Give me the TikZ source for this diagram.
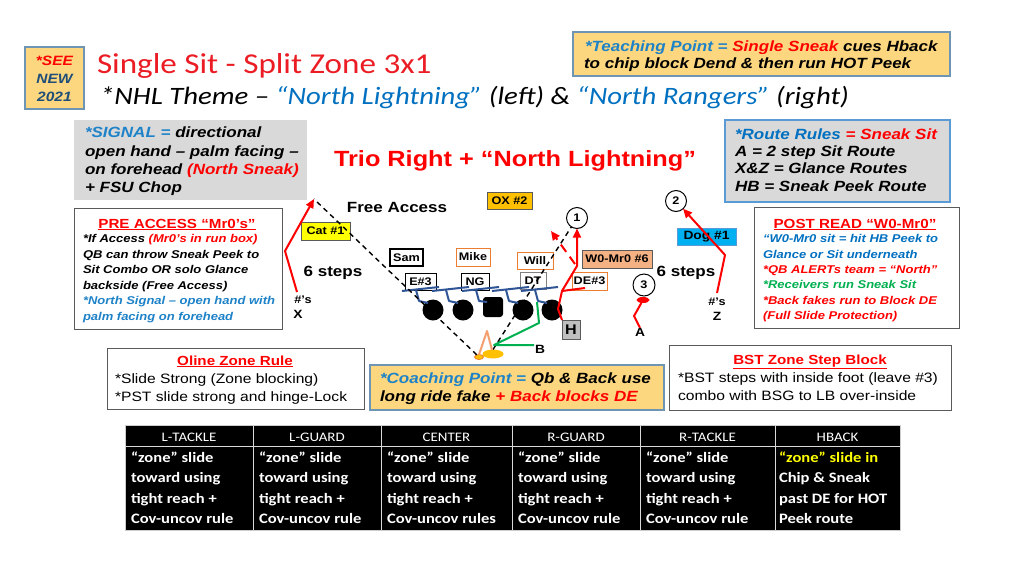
\documentclass[tikz,border=0pt]{standalone}
\usepackage{fontspec}
\setmainfont{Liberation Sans}[FakeStretch=1.15]
\newfontfamily\carl{Carlito}[FakeStretch=1.15]
\usetikzlibrary{arrows.meta,shapes.geometric}
\newcommand{\fs}[1]{\fontsize{#1}{#1}\selectfont}
\definecolor{tred}{RGB}{235,28,36}
\definecolor{rred}{RGB}{255,0,0}
\definecolor{tblue}{RGB}{0,112,192}
\definecolor{lblue}{RGB}{30,130,200}
\definecolor{navy}{RGB}{31,78,121}
\definecolor{ybfill}{RGB}{252,215,127}
\definecolor{ybdraw}{RGB}{110,150,180}
\definecolor{gfill}{RGB}{217,217,217}
\definecolor{rbdraw}{RGB}{91,155,213}
\definecolor{wbdraw}{RGB}{90,90,90}
\definecolor{ggreen}{RGB}{0,176,80}
\definecolor{orng}{RGB}{237,125,49}
\definecolor{lorng}{RGB}{244,160,110}
\definecolor{salmon}{RGB}{244,177,131}
\definecolor{oxfill}{RGB}{255,192,0}
\definecolor{dogfill}{RGB}{0,176,240}
\definecolor{blkblue}{RGB}{47,85,151}
\definecolor{hfill}{RGB}{191,191,191}
\definecolor{tyel}{RGB}{255,255,0}
\begin{document}
\begin{tikzpicture}[x=1pt,y=-1pt, every node/.style={inner sep=0pt, outer sep=0pt}]
\tikzset{
  ybox/.style={draw=ybdraw, fill=ybfill, line width=1.2pt},
  gbox/.style={fill=gfill},
  wbox/.style={draw=wbdraw, fill=white, line width=1pt},
  tl/.style={anchor=base west},
  tc/.style={anchor=base},
  bib/.style={font=\bfseries\itshape\fs{14.8}},
  bis/.style={font=\bfseries\itshape\fs{11.3}},
  rgl/.style={font=\fs{13.6}},
  ttl/.style={anchor=base, font=\bfseries\fs{13.2}, text=rred},
  tagbox/.style={draw, line width=1pt, minimum height=17, font=\bfseries\fs{11}},
  num/.style={circle, draw, line width=1pt, minimum size=21, font=\bfseries\fs{11}, fill=white},
  lman/.style={circle, fill=black, minimum size=21},
  route/.style={draw=rred, line width=2pt, line join=round},
  arr/.style={-{Triangle[length=9pt,width=8pt]}},
  blk/.style={draw=blkblue, line width=2pt, line join=round},
  dsh/.style={draw=black, line width=1.4pt, dash pattern=on 5pt off 4pt},
  hd/.style={anchor=base, text=white, font=\carl\fs{13}},
  bd/.style={anchor=base west, text=white, font=\carl\bfseries\fs{14.4}},
}
\useasboundingbox[fill=white] (0,0) rectangle (1024,576);

% ---------- header ----------
\node[ybox, minimum width=59, minimum height=62, anchor=north west] (see) at (25,47) {};
\node[tc, font=\bfseries\itshape\fs{13.5}, text=rred] (see1) at (54.5,65) {*SEE};
\node[tc, font=\bfseries\itshape\fs{13.5}, text=navy] (see2) at (54.5,83) {NEW};
\node[tc, font=\bfseries\itshape\fs{13.5}, text=navy] (see3) at (54.5,101) {2021};

\node[tl, font=\carl\fs{28.8}, text=tred] (title) at (97,73) {Single Sit - Split Zone 3x1};
\node[tl, font=\carl\itshape\fs{25}, ] (sub) at (100,104)
  {*NHL Theme – \textcolor{tblue}{“North Lightning”} (left) \& \textcolor{tblue}{“North Rangers”} (right)};

\node[ybox, minimum width=377, minimum height=44, anchor=north west] (teach) at (573,32) {};
\node[tl, bib] (teach1) at (585,51.5) {\textcolor{lblue}{*Teaching Point =} \textcolor{rred}{Single Sneak} cues Hback};
\node[tl, bib] (teach2) at (584,68.5) {to chip block Dend \& then run HOT Peek};

% ---------- signal / route rules ----------
\node[gbox, minimum width=233, minimum height=80, anchor=north west] (sig) at (74,120) {};
\node[tl, bib] (sig1) at (85,137.5) {\textcolor{lblue}{*SIGNAL =} directional};
\node[tl, bib] (sig2) at (85,156) {open hand – palm facing –};
\node[tl, bib] (sig3) at (85,174.5) {on forehead \textcolor{rred}{(North Sneak)}};
\node[tl, bib] (sig4) at (85,192.5) {+ FSU Chop};

\node[tc, font=\bfseries\fs{22}, text=rred] (trio) at (515,166) {Trio Right + “North Lightning”};

\node[gbox, draw=rbdraw, line width=1.5pt, minimum width=225, minimum height=82, anchor=north west] (rr) at (725,120) {};
\node[tl, bib] (rr1) at (735,139.5) {\textcolor{tblue}{*Route Rules} \textcolor{rred}{= Sneak Sit}};
\node[tl, bib] (rr2) at (735,156) {A = 2 step Sit Route};
\node[tl, bib] (rr3) at (735,173.5) {X\&Z = Glance Routes};
\node[tl, bib] (rr4) at (735,191) {HB = Sneak Peek Route};

% ---------- pre access / post read ----------
\node[wbox, minimum width=208, minimum height=121, anchor=north west] (pre) at (74,208) {};
\node[ttl] (pre0) at (177,228) {\underline{PRE ACCESS “Mr0’s”}};
\node[tl, bis] (pre1) at (83,242) {*If Access \textcolor{rred}{(Mr0’s in run box)}};
\node[tl, bis] (pre2) at (83,258) {QB can throw Sneak Peek to};
\node[tl, bis] (pre3) at (83,273) {Sit Combo OR solo Glance};
\node[tl, bis] (pre4) at (83,289) {backside (Free Access)};
\node[tl, bis, text=lblue] (pre5) at (83,304) {*North Signal – open hand with};
\node[tl, bis, text=lblue] (pre6) at (83,320) {palm facing on forehead};

\node[wbox, minimum width=205, minimum height=121, anchor=north west] (post) at (754,207) {};
\node[ttl] (post0) at (855,228) {\underline{POST READ “W0-Mr0”}};
\node[tl, bis, text=tblue] (post1) at (763,242) {“W0-Mr0 sit = hit HB Peek to};
\node[tl, bis, text=tblue] (post2) at (763,258) {Glance or Sit underneath};
\node[tl, bis, text=rred] (post3) at (763,273) {*QB ALERTs team = “North”};
\node[tl, bis, text=ggreen] (post4) at (763,288) {*Receivers run Sneak Sit};
\node[tl, bis, text=rred] (post5) at (763,304) {*Back fakes run to Block DE};
\node[tl, bis, text=rred] (post6) at (763,319) {(Full Slide Protection)};

% ---------- lower boxes ----------
\node[wbox, minimum width=257, minimum height=61, anchor=north west] (oline) at (107,348) {};
\node[ttl] (oline0) at (235,365) {\underline{Oline Zone Rule}};
\node[tl, rgl] (oline1) at (115,383) {*Slide Strong (Zone blocking)};
\node[tl, rgl] (oline2) at (115,401) {*PST slide strong and hinge-Lock};

\node[ybox, minimum width=294, minimum height=45, anchor=north west] (coach) at (370,365) {};
\node[tl, bib] (coach1) at (380,383.5) {\textcolor{lblue}{*Coaching Point =} Qb \& Back use};
\node[tl, bib] (coach2) at (380,401.5) {long ride fake \textcolor{rred}{+ Back blocks DE}};

\node[wbox, minimum width=282, minimum height=65, anchor=north west] (bst) at (669,345) {};
\node[ttl] (bst0) at (810,364) {\underline{BST Zone Step Block}};
\node[tl, rgl] (bst1) at (678,382) {*BST steps with inside foot (leave \#3)};
\node[tl, rgl] (bst2) at (678,400) {combo with BSG to LB over-inside};

% ---------- table ----------
\fill[black] (125,425) rectangle (900,530);
\draw[white!80!black, line width=0.8pt] (125,425) rectangle (900,530);
\draw[white!85!black, line width=1pt] (125,446) -- (900,446);
\foreach \cx in {253,381,512,640,775} \draw[white!85!black, line width=1pt] (\cx,425) -- (\cx,530);
\foreach \x/\t [count=\i] in {189/L-TACKLE,317/L-GUARD,446.5/CENTER,576/R-GUARD,707.5/R-TACKLE,837.5/HBACK}
  \node[hd] (hd\i) at (\x,441) {\t};
\foreach \x/\last [count=\i] in {131/Cov-uncov rule,259/Cov-uncov rule,387/Cov-uncov rules,518/Cov-uncov rule,646/Cov-uncov rule}{
  \node[bd] (b\i a) at (\x,462) {“zone” slide};
  \node[bd] (b\i b) at (\x,482) {toward using};
  \node[bd] (b\i c) at (\x,503) {tight reach +};
  \node[bd] (b\i d) at (\x,523) {\last};
}
\node[bd, text=tyel] (b6a) at (779,462) {“zone” slide in};
\node[bd] (b6b) at (779,482) {Chip \& Sneak};
\node[bd] (b6c) at (779,503) {past DE for HOT};
\node[bd] (b6d) at (779,523) {Peek route};

% ---------- field ----------
\node[tc, font=\bfseries\fs{14.8}] (free) at (397,212) {Free Access};
\node[tagbox, fill=oxfill, draw=wbdraw, minimum width=45] (ox) at (509.5,200.5) {OX \#2};
\node[num] (c1) at (577,218) {1};
\node[num] (c2) at (676,201) {2};
\node[num, minimum size=22] (c3) at (644,285) {3};
\node[tagbox, fill=tyel, draw=wbdraw, minimum width=49, minimum height=18] (cat) at (325.5,231) {Cat \#1};
\node[tagbox, fill=dogfill, draw=rbdraw, minimum width=59, font=\bfseries\fs{12}] (dog) at (706.5,236.5) {Dog \#1};
\node[tagbox, draw=black, line width=1.6pt, minimum width=33] (sam) at (406.5,257.5) {Sam};
\node[tagbox, draw=orng, minimum width=34, minimum height=18] (mike) at (473,257) {Mike};
\node[tagbox, draw=orng, minimum width=36] (will) at (535,260.5) {Will};
\node[tagbox, fill=salmon, draw=wbdraw, minimum width=70, minimum height=18] (w0) at (617,259) {W0-Mr0 \#6};
\node[tagbox, draw=black, minimum width=31] (e3) at (420.5,281.5) {E\#3};
\node[tagbox, draw=black, minimum width=28] (ng) at (475,281.5) {NG};
\node[tagbox, draw=gray, minimum width=26] (dt) at (533,281) {DT};
\node[tagbox, draw=orng, minimum width=35, minimum height=18] (de) at (589.5,281) {DE\#3};
\node[tc, font=\bfseries\fs{14.8}] (st1) at (333,276) {6 steps};
\node[tc, font=\bfseries\fs{14.8}] (st2) at (686,276) {6 steps};
\node[tc, font=\bfseries\fs{11}] (nx) at (303,303) {\#’s};
\node[tc, font=\bfseries\fs{12}] (xl) at (298,318) {X};
\node[tc, font=\bfseries\fs{11}] (nz) at (717,305) {\#’s};
\node[tc, font=\bfseries\fs{12}] (zl) at (717,320) {Z};
\node[tc, font=\bfseries\fs{12}] (al) at (640,336) {A};
\node[tc, font=\bfseries\fs{12}] (bl) at (540,353) {B};
\node[draw=wbdraw, fill=hfill, line width=0.8pt, minimum width=18, minimum height=19, font=\bfseries\fs{14}] (hb) at (571,329.5) {H};

\node[lman] (l1) at (433,310) {};
\node[lman] (l2) at (463,310) {};
\node[fill=black, rounded corners=3pt, minimum width=20, minimum height=20] (l3) at (493,307) {};
\node[lman] (l4) at (523,310) {};
\node[lman] (l5) at (552,310) {};
\node[ellipse, fill=oxfill, minimum width=21, minimum height=9] (qb) at (493,354) {};
\node[ellipse, fill=oxfill, draw=orng, line width=0.8pt, minimum width=9, minimum height=5] (qbs) at (479,357) {};
\node[ellipse, fill=rred, minimum width=13, minimum height=6] (aell) at (643,300) {};

% blocking lines
\foreach \n in {l1,l2,l4,l5}{
  \draw[blk] ([shift={(-31,-19)}]\n.center) -- ([shift={(6,-23)}]\n.center);
  \draw[blk] ([shift={(-17,-20)}]\n.center) -- ([shift={(-14,-9)}]\n.center) -- ([shift={(-5,-7)}]\n.center);
}
\draw[blk] ([shift={(-31,-16)}]l3.center) -- ([shift={(6,-20)}]l3.center);
\draw[blk] ([shift={(-17,-17)}]l3.center) -- ([shift={(-14,-6)}]l3.center) -- ([shift={(-6,-5)}]l3.center);

% coordinates
\coordinate (xs) at (297,292);
\coordinate (xb) at (285,251);
\coordinate (xtip) at (314,199);
\coordinate (zs) at (717,293);
\coordinate (zb) at (725,255);
\coordinate (ab) at (634,316);
\coordinate (h1) at (558,309);
\coordinate (h2) at (562,291);
\coordinate (h2b) at (585,288);
\coordinate (h3) at (577,266);
\coordinate (rda) at (575,264);
\coordinate (rdb) at (551,231);
\coordinate (g0) at (534,345);
\coordinate (g1) at (494,345);
\coordinate (g2) at (539,323);
\coordinate (g3) at (537,302);
\coordinate (o1) at (487,331);
\coordinate (o2) at (492,350);

% routes
\draw[dsh] (qbs) -- (xtip);
\draw[dsh] (qb.north) -- (c1);
\draw[route, arr] (xs) -- (xb) -- (xtip);
\draw[route, arr] (zs) -- (zb) -- (c2);
\draw[route] (al.north) -- (ab) -- (aell);
\draw[route, arr] (hb.north west) -- (h1) -- (h2) -- (h3) -- (c1);
\draw[route] (h2) -- (h2b);
\draw[route, dash pattern=on 9pt off 6pt, arr] (rda) -- (rdb);
\draw[draw=ggreen, line width=2pt, line join=round] (g0) -- (g1) -- (g2) -- (g3);
\draw[draw=lorng, line width=2pt, line join=round] (qbs.north) -- (o1) -- (o2);
\end{tikzpicture}
\end{document}
